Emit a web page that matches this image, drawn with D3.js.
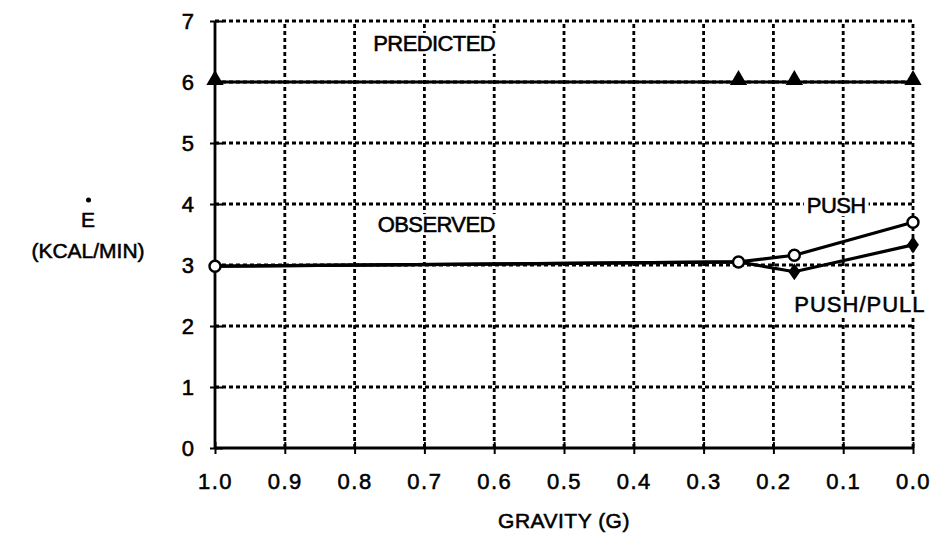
<!DOCTYPE html>
<html>
<head>
<meta charset="utf-8">
<script src="https://cdn.jsdelivr.net/npm/d3@7"></script>
<style>
  html, body { margin: 0; padding: 0; background: #fff; }
  svg { display: block; }
  text { font-family: "Liberation Sans", Arial, Helvetica, sans-serif; fill: #000; }
  .heavy { stroke: #000; stroke-width: 0.55px; }
</style>
</head>
<body>
<svg id="chart" width="938" height="538"></svg>
<script>
// ---- data ----
const gravityTicks = [1.0, 0.9, 0.8, 0.7, 0.6, 0.5, 0.4, 0.3, 0.2, 0.1, 0.0];
const energyTicks = [0, 1, 2, 3, 4, 5, 6, 7];
const gravity = [1.0, 0.25, 0.17, 0.0];
const predicted = [6.0, 6.0, 6.0, 6.0];
const observedPush = [2.98, 3.05, 3.16, 3.70];
const observedPushPull = [2.98, 3.05, 2.89, 3.33];
const xTitle = "GRAVITY (G)";
const yTitleTop = "E";
const yTitleBottom = "(KCAL/MIN)";
const seriesLabels = ["PREDICTED", "OBSERVED", "PUSH", "PUSH/PULL"];

// ---- layout ----
const svg = d3.select("#chart");
const x = d3.scaleLinear().domain([1.0, 0.0]).range([215, 913]);
const y = d3.scaleLinear().domain([0, 7]).range([448, 21]);

// grid (dotted)
const grid = svg.append("g");
grid.selectAll("line.h").data(energyTicks.filter(d => d > 0)).join("line")
  .attr("x1", x(1.0)).attr("x2", x(0.0))
  .attr("y1", d => y(d)).attr("y2", d => y(d))
  .attr("stroke", "#000").attr("stroke-width", 2.8)
  .attr("stroke-dasharray", "4,3");
grid.selectAll("line.v").data(gravityTicks.filter(d => d < 1.0)).join("line")
  .attr("x1", d => x(d)).attr("x2", d => x(d))
  .attr("y1", y(0)).attr("y2", y(7))
  .attr("stroke", "#000").attr("stroke-width", 2.8)
  .attr("stroke-dasharray", "4,3");

// x axis
const xAxis = svg.append("g").attr("transform", `translate(0,${y(0)})`)
  .call(d3.axisBottom(x).tickValues(gravityTicks).tickFormat(d3.format(".1f")).tickSize(6).tickPadding(22));
xAxis.select(".domain").attr("stroke", "#000").attr("stroke-width", 3).attr("d", `M${x(1.0)},0H${x(0.0)}`);
xAxis.selectAll(".tick line").attr("y1", -6).attr("y2", 6).attr("stroke", "#000").attr("stroke-width", 2);
xAxis.selectAll(".tick text").attr("font-size", 22).attr("letter-spacing", "1.5px").attr("class", "heavy")
  .style("font-family", "'Liberation Sans', Arial, sans-serif").attr("fill", "#000").attr("y", 41).attr("dy", 0);

// y axis
const yAxis = svg.append("g").attr("transform", `translate(${x(1.0)},0)`)
  .call(d3.axisLeft(y).tickValues(energyTicks).tickFormat(d3.format("d")).tickSize(5).tickPadding(16));
yAxis.select(".domain").attr("stroke", "#000").attr("stroke-width", 2.8).attr("d", `M0,${y(0)}V${y(7)}`);
yAxis.selectAll(".tick line").attr("x1", -5).attr("x2", 8).attr("stroke", "#000").attr("stroke-width", 2);
yAxis.selectAll(".tick text").attr("font-size", 22).attr("class", "heavy")
  .style("font-family", "'Liberation Sans', Arial, sans-serif").attr("fill", "#000");

// axis titles
svg.append("text").attr("x", (x(1.0) + x(0.0)) / 2).attr("y", 528).attr("class", "heavy")
  .attr("text-anchor", "middle").attr("font-size", 21).attr("letter-spacing", "0.5px").text(xTitle);
svg.append("text").attr("x", 88).attr("y", 227).attr("class", "heavy")
  .attr("text-anchor", "middle").attr("font-size", 21).text(yTitleTop);
svg.append("circle").attr("cx", 88.5).attr("cy", 200).attr("r", 2.5).attr("fill", "#000");
svg.append("text").attr("x", 88).attr("y", 258).attr("class", "heavy")
  .attr("text-anchor", "middle").attr("font-size", 21).text(yTitleBottom);

// lines
const line = d3.line().x(d => x(d[0])).y(d => y(d[1]));
const series = [
  { vals: predicted, w: 3.2 },
  { vals: observedPush, w: 3.2 },
  { vals: observedPushPull, w: 3.2 }
];
series.forEach(s => {
  svg.append("path").datum(gravity.map((g, i) => [g, s.vals[i]]))
    .attr("d", line).attr("fill", "none").attr("stroke", "#000").attr("stroke-width", s.w);
});

// markers
const tri = d3.symbol().type(d3.symbolTriangle).size(130);
svg.selectAll("path.tri").data(gravity.map((g, i) => [g, predicted[i]])).join("path")
  .attr("d", tri).attr("transform", d => `translate(${x(d[0])},${y(d[1]) - 2})`).attr("fill", "#000");

const dia = d3.symbol().type(d3.symbolDiamond).size(85);
// push/pull: filled diamonds where they differ from push
svg.selectAll("path.dia").data(gravity.map((g, i) => [g, observedPushPull[i], observedPush[i]]).filter(d => d[1] !== d[2])).join("path")
  .attr("d", dia).attr("transform", d => `translate(${x(d[0])},${y(d[1])}) scale(1.2,1)`).attr("fill", "#000");
// push: open circles
svg.selectAll("circle.obs").data(gravity.map((g, i) => [g, observedPush[i]])).join("circle")
  .attr("cx", d => x(d[0])).attr("cy", d => y(d[1])).attr("r", 5.5)
  .attr("fill", "#fff").attr("stroke", "#000").attr("stroke-width", 2.4);

// series labels
const labelPos = [[0.686, 6.51, "middle"], [0.683, 3.54, "middle"], [0.11, 3.85, "middle"], [0.076, 2.23, "middle"]];
seriesLabels.forEach((t, i) => {
  const p = labelPos[i];
  const bg = svg.append("rect");
  const txt = svg.append("text").attr("x", x(p[0])).attr("y", y(p[1])).attr("class", "heavy")
    .attr("text-anchor", p[2]).attr("font-size", 22).attr("letter-spacing", i === 3 ? "1px" : "-0.6px").text(t);
  const bb = txt.node().getBBox();
  bg.attr("x", bb.x - 3).attr("y", bb.y + 2).attr("width", bb.width + 6).attr("height", bb.height - 4).attr("fill", "#fff");
});
</script>
</body>
</html>
